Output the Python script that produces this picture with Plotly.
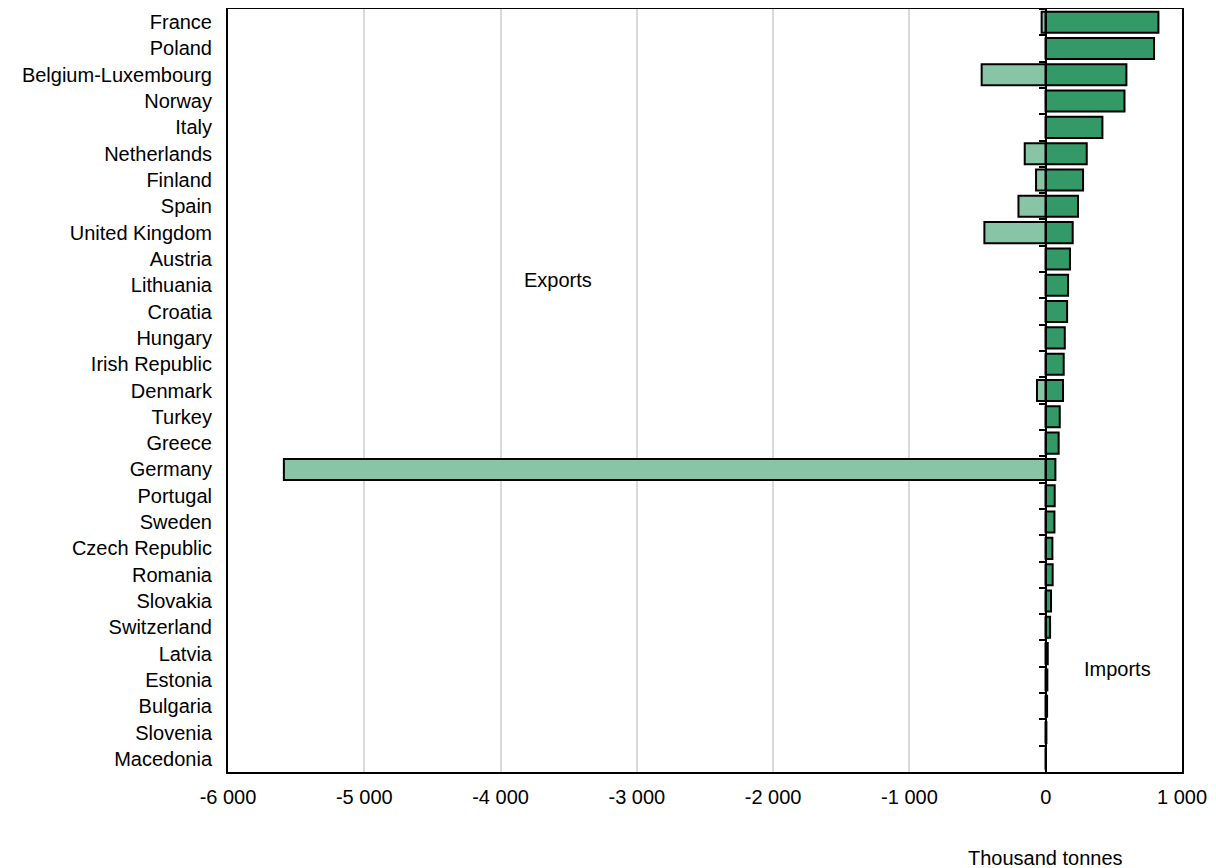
import plotly.graph_objects as go

countries = ["France", "Poland", "Belgium-Luxembourg", "Norway", "Italy", "Netherlands",
             "Finland", "Spain", "United Kingdom", "Austria", "Lithuania", "Croatia",
             "Hungary", "Irish Republic", "Denmark", "Turkey", "Greece", "Germany",
             "Portugal", "Sweden", "Czech Republic", "Romania", "Slovakia", "Switzerland",
             "Latvia", "Estonia", "Bulgaria", "Slovenia", "Macedonia"]
imports = [827, 795, 592, 578, 416, 301, 274, 237, 198, 178, 164, 157, 140, 132, 127,
           103, 95, 71, 66, 64, 49, 51, 39, 32, 15, 12, 10, 5, 2]
exports = [-30, 0, -470, 0, 0, -154, -71, -200, -450, 0, 0, 0, 0, 0, -64,
           0, 0, -5590, 0, 0, 0, 0, 0, 0, 0, 0, 0, 0, 0]
x_ticks = [-6000, -5000, -4000, -3000, -2000, -1000, 0, 1000]
x_tick_labels = ["-6 000", "-5 000", "-4 000", "-3 000", "-2 000", "-1 000", "0", "1 000"]

W, H = 1208, 860          # page body has an 8px margin
L, R, T, B = 220, 34, 1, 96
pw, ph = W - L - R, H - T - B
n = len(countries)

fig = go.Figure()
fig.add_trace(go.Bar(y=countries, x=exports, orientation="h", name="Exports",
                     marker=dict(color="#88c4a6", line=dict(color="black", width=2)),
                     width=0.8))
fig.add_trace(go.Bar(y=countries, x=imports, orientation="h", name="Imports",
                     marker=dict(color="#339966", line=dict(color="black", width=2)),
                     width=0.8))
# invisible trace carrying the category axis drawn at the zero position
fig.add_trace(go.Scatter(y=countries, x=[0] * n, yaxis="y2", mode="markers",
                         marker=dict(opacity=0), hoverinfo="skip", showlegend=False))

fig.update_layout(
    width=W, height=H,
    margin=dict(l=L, r=R, t=T, b=B, autoexpand=False),
    barmode="overlay",
    showlegend=False,
    plot_bgcolor="white", paper_bgcolor="white",
    font=dict(family="Liberation Sans, Arial, sans-serif", size=20, color="black"),
    xaxis=dict(range=[-6000, 1000], tickvals=x_ticks, ticktext=x_tick_labels,
               showgrid=True, gridcolor="#d9d9d9", gridwidth=2, zeroline=False,
               showline=True, linecolor="black", linewidth=2, mirror=True,
               ticks="", ticklabelstandoff=6),
    yaxis=dict(type="category", categoryorder="array", categoryarray=countries,
               range=[n - 0.5, -0.5], showgrid=False, zeroline=False,
               showline=True, linecolor="black", linewidth=2, mirror=True,
               ticks="", ticklabelstandoff=10),
    yaxis2=dict(type="category", overlaying="y", matches="y", anchor="free",
                position=6000 / 7000, side="left", showticklabels=False,
                ticks="outside", tickson="boundaries", ticklen=6, tickwidth=2,
                tickcolor="black", showline=True, linecolor="black", linewidth=2,
                showgrid=False, zeroline=False),
)

# annotation positions given in page pixels, converted to paper fractions
notes = [("Exports", 558, 280), ("Imports", 1117, 669), ("Thousand tonnes", 1045, 858)]
for text, px, py in notes:
    fig.add_annotation(text=text, showarrow=False, xref="paper", yref="paper",
                       x=(px - 8 - L) / pw, y=1 - (py - 8 - T) / ph,
                       xanchor="center", yanchor="middle")

fig.write_html("out.html")
